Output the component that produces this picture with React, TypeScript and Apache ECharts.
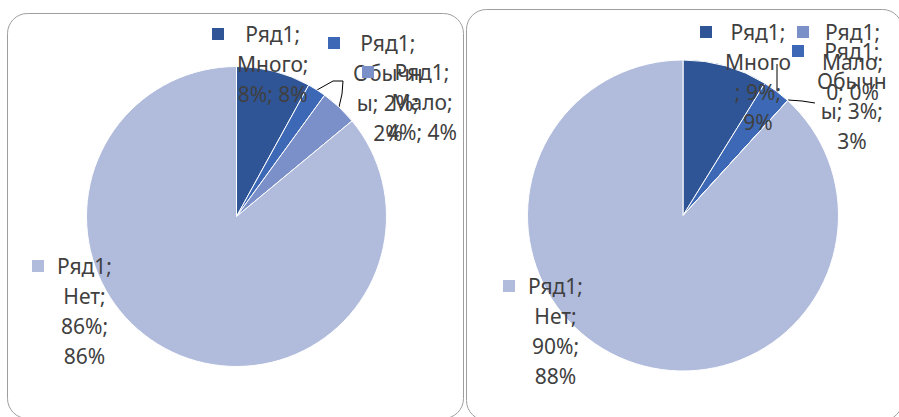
import React, { useEffect, useRef } from 'react';
import * as echarts from 'echarts';

// ---- data ----
const seriesName = 'Ряд1';
const categories = ['Много', 'Обычны', 'Мало', 'Нет'];
const leftValues = [0.08, 0.02, 0.04, 0.86];
const rightValues = [0.09, 0.03, 0, 0.9];
const colors = ['#2F5597', '#3C68B5', '#7B90C9', '#B1BCDD'];

// characters per wrapped line of each data label (as wrapped in the reference)
const leftWraps = [[5, 6, 6], [5, 5, 6, 2], [5, 5, 6], [5, 4, 4, 3]];
const rightWraps = [[5, 5, 5, 2], [5, 5, 6, 2], [5, 5, 5], [5, 4, 4, 3]];

// ---- layout (label anchors: key left, block top) ----
const leftLabelPos = [[212, 19], [328, 28], [362, 57], [32, 251]];
const rightLabelPos = [[700, 17], [792, 36], [797, 17], [503, 271]];
const leftLeader: (number[][] | null)[] = [null, [[317, 90], [333, 81], [343, 81]], [[339, 107], [342, 94], [343, 81]], null];
const rightLeader: (number[][] | null)[] = [null, [[777, 100], [777, 82], [777, 64]], [[788, 100], [802, 101], [815, 103]], null];

const FONT = '"Noto Sans", "Open Sans", sans-serif';
const TEXT = '#404040';

function fmtVal(v: number) {
  return v === 0 ? '0' : Math.round(v * 100) + '%';
}

function wrap(s: string, widths: number[]) {
  const out: string[] = [];
  let i = 0;
  for (const w of widths) {
    while (s[i] === ' ') i++;
    out.push(s.slice(i, i + w));
    i += w;
  }
  return out;
}

function makeSeries(values: number[], wraps: number[][], pos: number[][], leaders: (number[][] | null)[], center: number[], radius: number) {
  const rich: any = {
    g: { width: 13, align: 'left', lineHeight: 30 },
    s: { width: 25, align: 'left', lineHeight: 30 },
    t: { align: 'center', fontSize: 21, fontFamily: FONT, color: TEXT, lineHeight: 30 },
  };
  colors.forEach((c, i) => {
    rich['k' + i] = { width: 12, height: 12, backgroundColor: c, align: 'left' };
  });
  return {
    type: 'pie',
    name: seriesName,
    center,
    radius,
    startAngle: 90,
    clockwise: true,
    avoidLabelOverlap: false,
    silent: true,
    itemStyle: { borderColor: '#ffffff', borderWidth: 1 },
    emphasis: { disabled: true },
    label: {
      show: true,
      position: 'outside',
      rich,
      formatter: (p: any) => {
        const full = [p.seriesName, p.name, fmtVal(p.value), Math.round(p.percent) + '%'].join('; ');
        const lines = wrap(full, wraps[p.dataIndex]);
        return lines
          .map((l, j) => (j === 0 ? `{k${p.dataIndex}|}{g|}{t|${l}}` : `{s|}{t|${l}}`))
          .join('\n');
      },
    },
    labelLine: { show: true, lineStyle: { color: '#000000', width: 1 }, smooth: false },
    labelLayout: (p: any) => {
      const ps = pos[p.dataIndex];
      const o: any = { x: ps[0], y: ps[1], align: 'left', verticalAlign: 'top' };
      const ll = leaders[p.dataIndex];
      if (ll) o.labelLinePoints = ll;
      return o;
    },
    data: values.map((v, i) => ({
      name: categories[i],
      value: v,
      itemStyle: { color: colors[i] },
      labelLine: { show: !!leaders[i] },
    })),
  };
}

export default function App() {
  const ref = useRef<HTMLDivElement>(null);
  useEffect(() => {
    if (!ref.current) return;
    const chart = echarts.init(ref.current, null, { renderer: 'svg' });
    chart.setOption({
      animation: false,
      backgroundColor: '#ffffff',
      textStyle: { fontFamily: FONT },
      graphic: [
        {
          type: 'rect',
          silent: true,
          shape: { x: 7.5, y: 13.5, width: 456, height: 405, r: 20 },
          style: { fill: 'none', stroke: '#9e9e9e', lineWidth: 1 },
        },
        {
          type: 'rect',
          silent: true,
          shape: { x: 466.5, y: 9.5, width: 436, height: 411, r: 20 },
          style: { fill: 'none', stroke: '#9e9e9e', lineWidth: 1 },
        },
      ],
      series: [
        makeSeries(leftValues, leftWraps, leftLabelPos, leftLeader, [236.5, 216.5], 150),
        makeSeries(rightValues, rightWraps, rightLabelPos, rightLeader, [683, 215.5], 155.5),
      ],
    });
    return () => chart.dispose();
  }, []);
  return <div ref={ref} style={{ position: 'fixed', left: 0, top: 0, width: 899, height: 417 }} />;
}
